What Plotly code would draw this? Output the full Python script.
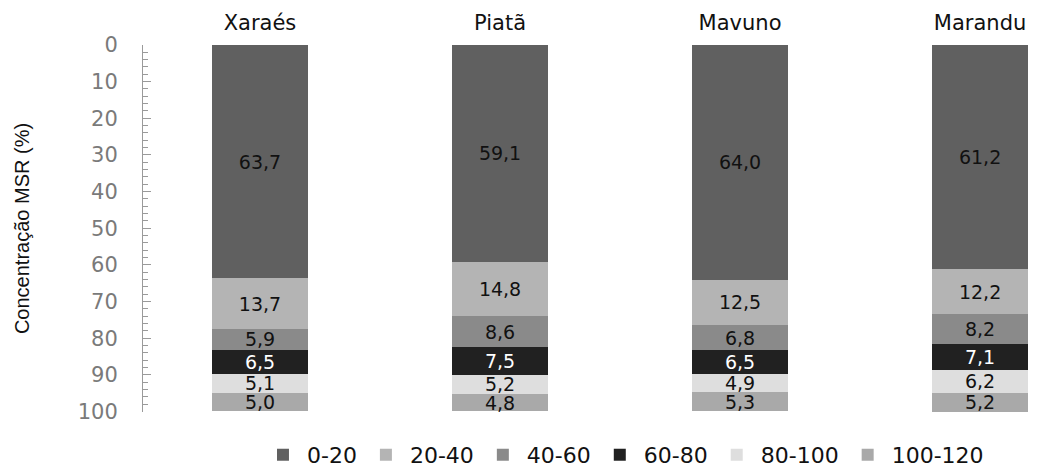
import plotly.graph_objects as go

# Grass cultivars and soil depth layers (cm)
cultivars = ["Xaraés", "Piatã", "Mavuno", "Marandu"]
layers = ["0-20", "20-40", "40-60", "60-80", "80-100", "100-120"]

# Root dry mass concentration (%) per layer, one list per layer
v_0_20 = [63.7, 59.1, 64.0, 61.2]
v_20_40 = [13.7, 14.8, 12.5, 12.2]
v_40_60 = [5.9, 8.6, 6.8, 8.2]
v_60_80 = [6.5, 7.5, 6.5, 7.1]
v_80_100 = [5.1, 5.2, 4.9, 6.2]
v_100_120 = [5.0, 4.8, 5.3, 5.2]

y_ticks = [0, 10, 20, 30, 40, 50, 60, 70, 80, 90, 100]

series = [v_0_20, v_20_40, v_40_60, v_60_80, v_80_100, v_100_120]
fills = ["#606060", "#b4b4b4", "#8a8a8a", "#212121", "#dedede", "#a9a9a9"]
text_colors = ["#111111", "#111111", "#111111", "#ffffff", "#111111", "#111111"]

FONT = "DejaVu Sans, Arial, sans-serif"

fig = go.Figure()
for name, vals, fill, tc in zip(layers, series, fills, text_colors):
    fig.add_trace(go.Bar(
        name=name,
        x=cultivars,
        y=vals,
        text=[f"{v:.1f}".replace(".", ",") for v in vals],
        textposition="inside",
        insidetextanchor="middle",
        textangle=0,
        textfont=dict(family=FONT, size=19, color=tc),
        marker=dict(color=fill, line=dict(width=0)),
        width=0.4,
    ))

fig.update_layout(
    barmode="stack",
    width=1042,
    height=476,
    margin=dict(l=143, r=0, t=45, b=56),
    paper_bgcolor="white",
    plot_bgcolor="white",
    font=dict(family=FONT, color="#111111"),
    uniformtext=dict(mode="show", minsize=19),
    showlegend=True,
    legend=dict(
        orientation="h",
        x=0.129, xanchor="left",
        y=-0.117, yanchor="middle",
        font=dict(family=FONT, size=22, color="#111111"),
        itemwidth=38,
        traceorder="normal",
        tracegroupgap=0,
    ),
    xaxis=dict(
        side="top",
        range=[-0.4875, 3.258],
        showline=False,
        showgrid=False,
        ticks="",
        ticklabelstandoff=10,
        tickfont=dict(family=FONT, size=21, color="#111111"),
    ),
    yaxis=dict(
        range=[100.15, 0],
        tickvals=y_ticks,
        showgrid=False,
        zeroline=False,
        showline=True,
        linecolor="#9a9a9a",
        linewidth=1,
        ticks="inside",
        ticklen=8,
        tickcolor="#9a9a9a",
        ticklabelstandoff=20,
        tickfont=dict(family=FONT, size=21, color="#7a7a7a"),
        minor=dict(dtick=2, ticks="inside", ticklen=5, tickcolor="#9a9a9a"),
        title=dict(
            text="Concentração MSR (%)",
            font=dict(family="Liberation Sans, Arial, sans-serif", size=20, color="#111111"),
            standoff=42,
        ),
    ),
)

fig.write_html("out.html")
